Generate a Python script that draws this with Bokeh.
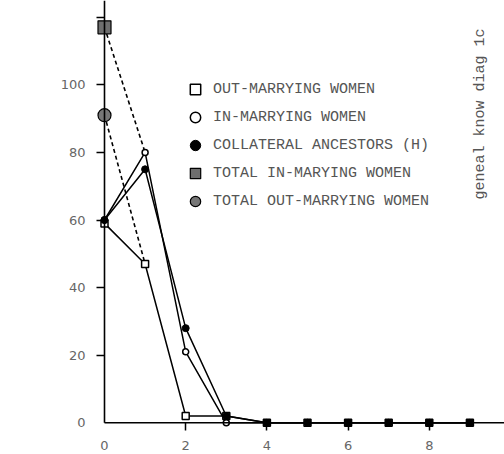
from math import pi
from bokeh.plotting import figure
from bokeh.models import Range1d, FixedTicker, Legend, LegendItem, Label, Arrow
from bokeh.embed import file_html
from bokeh.resources import INLINE

# ---- data ----
generation = [0, 1, 2, 3, 4, 5, 6, 7, 8, 9]
out_marrying = [59, 47, 2, 2, 0, 0, 0, 0, 0, 0]
in_marrying = [60, 80, 21, 0, 0, 0, 0, 0, 0, 0]
collateral = [60, 75, 28, 2, 0, 0, 0, 0, 0, 0]
total_in_marrying = [117]
total_out_marrying = [91]

x_ticks = [0, 2, 4, 6, 8]
x_tick_marks = [2, 4, 6, 8]
y_ticks = [0, 20, 40, 60, 80, 100]
y_tick_marks = [20, 40, 60, 80, 100, 120]

legend_labels = ["OUT-MARRYING WOMEN", "IN-MARRYING WOMEN", "COLLATERAL ANCESTORS (H)",
                 "TOTAL IN-MARYING WOMEN", "TOTAL OUT-MARRYING WOMEN"]
y_title = "NUMBER OF PERSONS LISTED"
side_note = "geneal know diag 1c"

# ---- layout (canvas pixels) ----
W, H = 504, 454
PXX, PXY = 40.6, 3.38
X0, Y0 = 104.0, 422.3          # canvas position of the data origin
frame_left, frame_bottom = 96, 430
x_start = -(X0 - frame_left) / PXX
x_end = (W - X0) / PXX
y_end = Y0 / PXY
y_start = -(frame_bottom - Y0) / PXY


def dx(px):
    return (px - X0) / PXX


def dy(py):
    return (Y0 - py) / PXY


p = figure(width=W, height=H, output_backend="svg", toolbar_location=None,
           x_range=Range1d(x_start, x_end), y_range=Range1d(y_start, y_end),
           min_border_left=frame_left, min_border_right=0, min_border_top=0,
           min_border_bottom=H - frame_bottom)
p.outline_line_color = None
p.grid.visible = False
p.background_fill_color = "white"
p.border_fill_color = "white"

for ax, ticks, marks in ((p.xaxis[0], x_ticks, x_tick_marks),
                         (p.yaxis[0], y_ticks, y_tick_marks)):
    ax.ticker = FixedTicker(ticks=ticks, minor_ticks=marks)
    ax.axis_line_color = None
    ax.major_tick_line_color = None
    ax.major_tick_out = 0
    ax.major_tick_in = 0
    ax.minor_tick_line_color = "black"
    ax.minor_tick_line_width = 1.5
    ax.minor_tick_out = 0
    ax.minor_tick_in = 8
    ax.major_label_text_font = "DejaVu Sans"
    ax.major_label_text_font_size = "13px"
    ax.major_label_text_color = "#666666"
p.xaxis.major_label_standoff = 10
p.yaxis.major_label_standoff = 11

# axis lines through the origin
p.add_layout(Arrow(end=None, x_start=0, y_start=0, x_end=x_end, y_end=0,
                   line_color="black", line_width=1.6))
p.add_layout(Arrow(end=None, x_start=0, y_start=0, x_end=0, y_end=y_end,
                   line_color="black", line_width=1.6))

# dashed connectors from totals
p.line([generation[0], generation[1]], [total_in_marrying[0], in_marrying[1]],
       line_color="black", line_width=1.6, line_dash="4 3")
p.line([generation[0], generation[1]], [total_out_marrying[0], out_marrying[1]],
       line_color="black", line_width=1.6, line_dash="4 3")

# solid series
for ys in (out_marrying, in_marrying, collateral):
    p.line(generation, ys, line_color="black", line_width=1.5)

r_out = p.scatter(generation, out_marrying, marker="square", size=7,
                  fill_color="white", line_color="black", line_width=1.5)
r_in = p.scatter(generation, in_marrying, marker="circle", size=6,
                 fill_color="white", line_color="black", line_width=1.5)
r_col = p.scatter(generation, collateral, marker="circle", size=7,
                  fill_color="black", line_color="black", line_width=1)
r_tin = p.scatter(generation[:1], total_in_marrying, marker="square", size=13,
                  fill_color="#6e6e6e", line_color="black", line_width=1.2)
r_tout = p.scatter(generation[:1], total_out_marrying, marker="circle", size=13,
                   fill_color="#777777", line_color="black", line_width=1.2)

legend = Legend(items=[LegendItem(label=lab, renderers=[r]) for lab, r in
                       zip(legend_labels, [r_out, r_in, r_col, r_tin, r_tout])],
                location=(86, 216), padding=0, margin=0, spacing=2,
                glyph_height=26, glyph_width=26, label_standoff=5,
                border_line_color=None, background_fill_alpha=0,
                label_text_font="Liberation Mono", label_text_font_size="15px",
                label_text_color="#555555")
p.add_layout(legend)

p.add_layout(Label(x=dx(20), y=dy(262), text=y_title, angle=pi / 2,
                   text_align="center", text_baseline="alphabetic",
                   text_font="Liberation Mono", text_font_size="15px",
                   text_color="#555555"))
p.add_layout(Label(x=dx(480), y=dy(113.5), text=side_note, angle=pi / 2,
                   text_align="center", text_baseline="alphabetic",
                   text_font="Liberation Mono", text_font_size="15px",
                   text_color="#555555"))

open("out.html", "w").write(file_html(p, INLINE))
